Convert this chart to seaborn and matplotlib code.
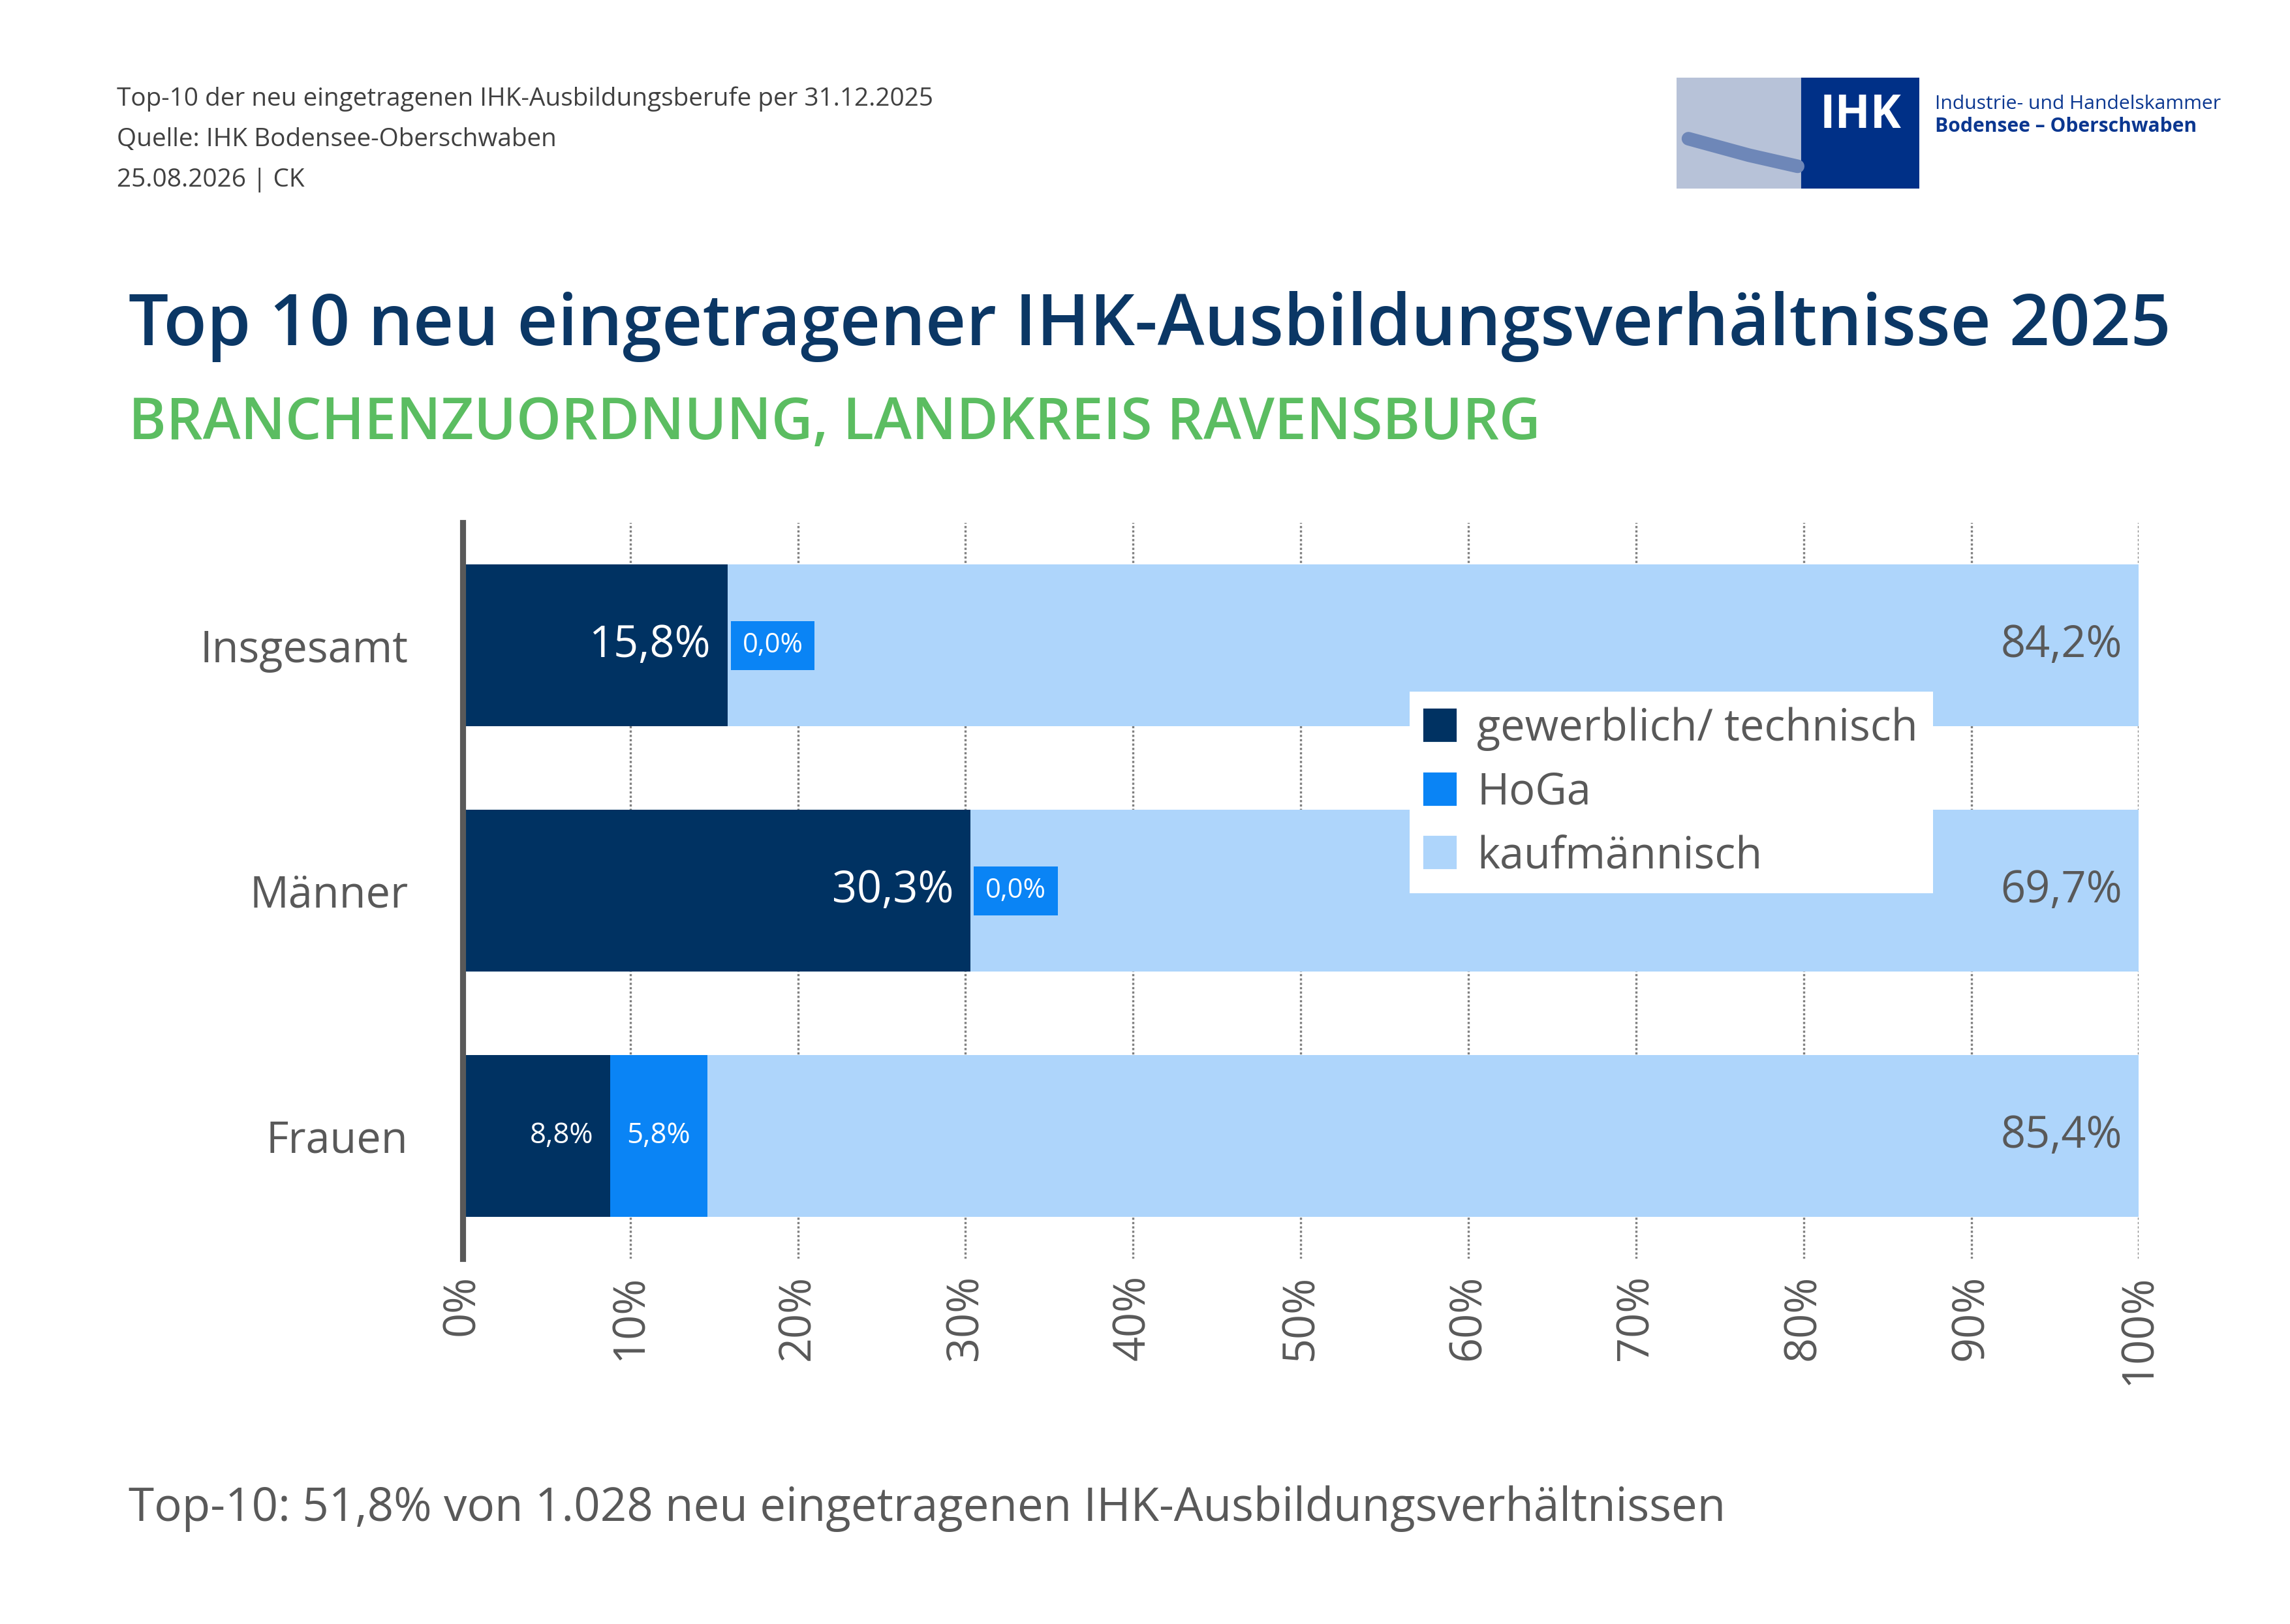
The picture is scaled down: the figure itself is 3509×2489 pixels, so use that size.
import matplotlib
matplotlib.use("Agg")
import matplotlib.pyplot as plt
import seaborn as sns
import pandas as pd
import numpy as np
from matplotlib.patches import Rectangle, Patch

categories = ["Insgesamt", "Männer", "Frauen"]
gewerblich = [15.8, 30.3, 8.8]
hoga = [0.0, 0.0, 5.8]
kaufm = [84.2, 69.7, 85.4]
xticks = [0, 10, 20, 30, 40, 50, 60, 70, 80, 90, 100]

sns.set_theme(style="white")
plt.rcParams['font.family'] = ['Open Sans', 'DejaVu Sans']

C_GEW = "#003262"
C_HOGA = "#0A84F5"
C_KAUF = "#AED5FB"
GRAY = "#595959"

fig = plt.figure(figsize=(3509/300, 2489/300), dpi=300)
ax = fig.add_axes([0.202, 0.225, 0.732, 0.453])

df = pd.DataFrame({"cat": categories, "g": gewerblich, "h": hoga, "k": kaufm})
df["gh"] = df["g"] + df["h"]
df["tot"] = df["gh"] + df["k"]
for col, c in [("tot", C_KAUF), ("gh", C_HOGA), ("g", C_GEW)]:
    sns.barplot(data=df, y="cat", x=col, color=c, width=0.66, ax=ax, saturation=1,
                zorder=2, linewidth=0, edgecolor="none")

ax.set_xlim(0, 100)
ax.set_ylim(2.5, -0.5)
ax.set_xticks(xticks)
ax.set_xticklabels([f"{t}%" for t in xticks], rotation=90, fontsize=16, color=GRAY)
ax.tick_params(axis="y", labelsize=16, labelcolor=GRAY, length=0, pad=20)
ax.tick_params(axis="x", length=0, pad=6)
ax.set_xlabel(""); ax.set_ylabel("")
ax.grid(axis="x", color="#808080", linestyle=(0, (1, 1)), linewidth=0.8, zorder=0)
ax.set_axisbelow(True)
for s in ["top", "right", "bottom"]:
    ax.spines[s].set_visible(False)
ax.spines["left"].set_color(GRAY)
ax.spines["left"].set_linewidth(2.2)
ax.spines["left"].set_zorder(5)

for i in range(3):
    g, h, k = gewerblich[i], hoga[i], kaufm[i]
    big = g > 10
    fs_g = 16 if big else 10.5
    ax.text(g - 1, i, f"{g:.1f}%".replace(".", ","), ha="right", va="center",
            color="white", fontsize=fs_g, zorder=6)
    if h == 0:
        ax.add_patch(Rectangle((g + 0.2, i - 0.1), 5.0, 0.2, color=C_HOGA, zorder=5, lw=0))
        ax.text(g + 0.2 + 2.5, i, "0,0%", ha="center", va="center", color="white", fontsize=10, zorder=6)
    else:
        ax.text(g + h / 2, i, f"{h:.1f}%".replace(".", ","), ha="center", va="center",
                color="white", fontsize=10.5, zorder=6)
    ax.text(99, i, f"{k:.1f}%".replace(".", ","), ha="right", va="center", color=GRAY, fontsize=16, zorder=6)

handles = [Patch(color=C_GEW), Patch(color=C_HOGA), Patch(color=C_KAUF)]
leg = ax.legend(handles, ["gewerblich/ technisch", "HoGa", "kaufmännisch"],
                loc="upper left", bbox_to_anchor=(0.552, 0.80), fontsize=16,
                frameon=True, fancybox=False, framealpha=1, edgecolor="white",
                handlelength=0.7, handleheight=0.7, handletextpad=0.5, labelspacing=0.45,
                borderpad=0.35, labelcolor=GRAY)
leg.get_frame().set_linewidth(0)
leg.set_zorder(10)

for y, t in [(0.939, "Top-10 der neu eingetragenen IHK-Ausbildungsberufe per 31.12.2025"),
             (0.914, "Quelle: IHK Bodensee-Oberschwaben"),
             (0.889, "25.08.2026 | CK")]:
    fig.text(0.051, y, t, fontsize=9.3, color="#404040", va="center")
fig.text(0.056, 0.799, "Top 10 neu eingetragener IHK-Ausbildungsverhältnisse 2025",
         fontsize=26, fontweight="semibold", color="#0B3765", va="center")
fig.text(0.056, 0.739, "BRANCHENZUORDNUNG, LANDKREIS RAVENSBURG",
         fontsize=21, fontweight="semibold", color="#5BBD61", va="center")
fig.text(0.056, 0.071, "Top-10: 51,8% von 1.028 neu eingetragenen IHK-Ausbildungsverhältnissen",
         fontsize=17, color=GRAY, va="center")

lax = fig.add_axes([0.732, 0.884, 0.106, 0.068])
lax.set_xlim(0, 1); lax.set_ylim(0, 1); lax.axis("off")
lax.add_patch(Rectangle((0, 0), 0.52, 1, color="#B7C2D8"))
lax.add_patch(Rectangle((0.52, 0), 0.48, 1, color="#003087"))
lax.plot([0.05, 0.3, 0.5], [0.45, 0.3, 0.2], color="#6E87B8", lw=5)
lax.text(0.76, 0.66, "IHK", color="white", fontsize=17, fontweight="bold", ha="center", va="center")
fig.text(0.845, 0.936, "Industrie- und Handelskammer", fontsize=7.2, color="#0B3790", va="center")
fig.text(0.845, 0.922, "Bodensee – Oberschwaben", fontsize=7.2, fontweight="bold", color="#0B3790", va="center")

fig.savefig("out.png", dpi=300, facecolor="white")
